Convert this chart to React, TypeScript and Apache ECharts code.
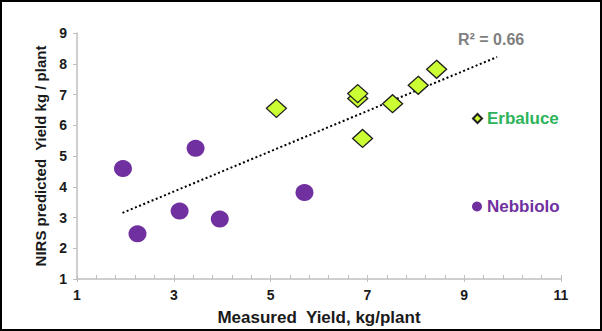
import React, { useEffect, useRef } from "react";
import * as echarts from "echarts";

const nebbiolo: [number, number][] = [
  [1.95, 4.59],
  [2.25, 2.47],
  [3.12, 3.21],
  [3.45, 5.25],
  [3.95, 2.95],
  [5.7, 3.81],
];
const erbaluce: [number, number][] = [
  [5.12, 6.55],
  [6.8, 6.87],
  [6.8, 7.03],
  [6.9, 5.57],
  [7.52, 6.7],
  [8.05, 7.3],
  [8.43, 7.82],
];
const trendLine: [number, number][] = [
  [1.94, 3.15],
  [9.68, 8.22],
];
const r2Label = "R² = 0.66";

export default function App() {
  const ref = useRef<HTMLDivElement>(null);
  useEffect(() => {
    if (!ref.current) return;
    const chart = echarts.init(ref.current, null, { renderer: "svg" });
    const font = "Liberation Sans, Arial, sans-serif";
    chart.setOption({
      animation: false,
      backgroundColor: "#ffffff",
      grid: { left: 77, right: 41, top: 33, bottom: 52 },
      xAxis: [
        {
          type: "value",
          min: 1,
          max: 11,
          interval: 2,
          name: "Measured  Yield, kg/plant",
          nameLocation: "middle",
          nameGap: 30,
          nameTextStyle: { fontFamily: font, fontWeight: "bold", fontSize: 17, color: "#1a1a1a" },
          axisLine: { lineStyle: { color: "#bfbfbf", width: 1.5 } },
          axisTick: { show: true, inside: true, length: 4, lineStyle: { color: "#bfbfbf" } },
          minorTick: { show: true, splitNumber: 5, length: 4, lineStyle: { color: "#bfbfbf" } },
          axisLabel: { fontFamily: font, fontWeight: "bold", fontSize: 14, color: "#1a1a1a", margin: 9 },
          splitLine: { show: false },
        },
        {
          type: "value",
          min: 1,
          max: 11,
          interval: 2,
          position: "bottom",
          axisLine: { show: false },
          axisTick: { show: true, inside: false, length: 3, lineStyle: { color: "#bfbfbf" } },
          axisLabel: { show: false },
          splitLine: { show: false },
        },
      ],
      yAxis: {
        type: "value",
        min: 1,
        max: 9,
        interval: 1,
        name: "NIRS predicted  Yield kg / plant",
        nameLocation: "middle",
        nameGap: 28,
        nameTextStyle: { fontFamily: font, fontWeight: "bold", fontSize: 15, color: "#1a1a1a" },
        axisLine: { show: true, lineStyle: { color: "#bfbfbf", width: 1.5 } },
        axisTick: { show: true, inside: false, length: 4, lineStyle: { color: "#bfbfbf" } },
        axisLabel: { fontFamily: font, fontWeight: "bold", fontSize: 14, color: "#1a1a1a", margin: 10 },
        splitLine: { show: false },
      },
      legend: [
        {
          data: ["Erbaluce"],
          left: 472,
          top: 110,
          padding: 0,
          itemWidth: 9,
          itemHeight: 9,
          itemGap: 0,
          textStyle: { fontFamily: font, fontWeight: "bold", fontSize: 17, color: "#2db35a" },
        },
        {
          data: ["Nebbiolo"],
          left: 472,
          top: 198,
          padding: 0,
          itemWidth: 10,
          itemHeight: 10,
          itemGap: 0,
          textStyle: { fontFamily: font, fontWeight: "bold", fontSize: 17, color: "#7030a0" },
        },
      ],
      series: [
        {
          name: "trend",
          type: "line",
          data: trendLine,
          symbol: "none",
          lineStyle: { color: "#000000", width: 2, type: [2, 2.5] },
          z: 1,
          silent: true,
        },
        {
          name: "Nebbiolo",
          type: "scatter",
          data: nebbiolo,
          symbol: "circle",
          symbolSize: [18, 17],
          itemStyle: { color: "#7030a0", opacity: 1 },
          z: 2,
        },
        {
          name: "Erbaluce",
          type: "scatter",
          data: erbaluce,
          symbol: "diamond",
          symbolSize: [20, 18],
          itemStyle: { color: "#ccff33", borderColor: "#1f1f1f", borderWidth: 1.3, opacity: 1 },
          z: 3,
        },
      ],
      graphic: [
        {
          type: "text",
          left: 458,
          top: 31,
          style: { text: r2Label, fontFamily: font, fontWeight: "bold", fontSize: 16, fill: "#7f7f7f" },
        },
        {
          type: "rect",
          shape: { x: 1, y: 1, width: 600, height: 329 },
          style: { fill: "none", stroke: "#000000", lineWidth: 2 },
          silent: true,
        },
      ],
    });
    return () => chart.dispose();
  }, []);
  return (
    <div
      ref={ref}
      style={{ position: "fixed", left: 0, top: 0, width: 602, height: 331 }}
    />
  );
}
